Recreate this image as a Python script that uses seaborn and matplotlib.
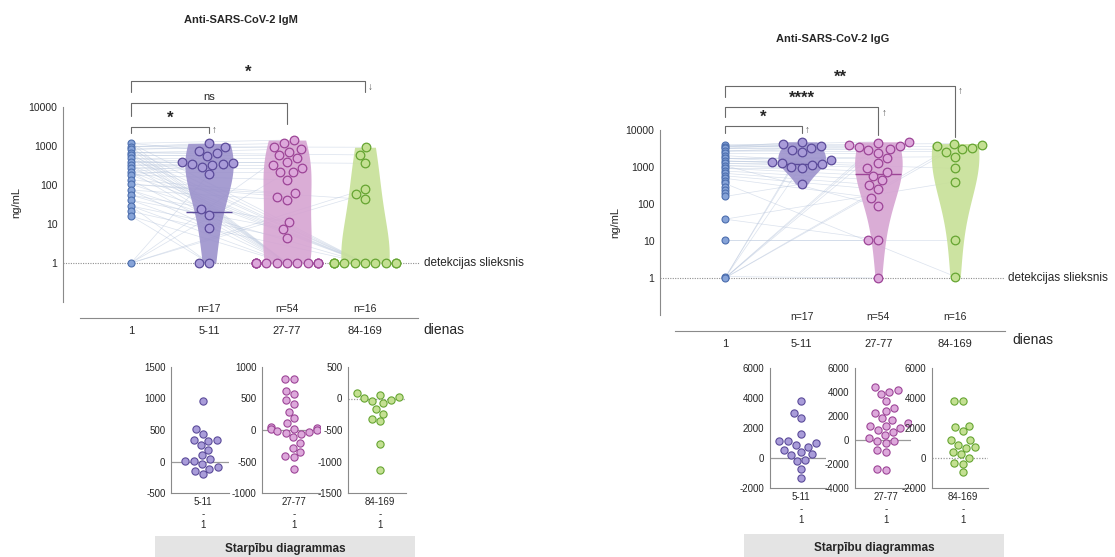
import warnings
import numpy as np
import pandas as pd
import matplotlib
matplotlib.use("Agg")
import matplotlib.pyplot as plt
import matplotlib.transforms as mtransforms
from matplotlib.patches import Rectangle
from matplotlib.ticker import FixedLocator, NullFormatter, AutoMinorLocator
import seaborn as sns

warnings.filterwarnings("ignore")

# ---- categories / labels ----
groups = ["1", "5-11", "27-77", "84-169"]
n_labels = ["n=17", "n=54", "n=16"]
diff_labels = ["5-11\n-\n1", "27-77\n-\n1", "84-169\n-\n1"]

# ---- IgM (ng/mL), later values and their day-1 partner ----
igm_day1 = [1170, 960, 825, 675, 585, 480, 395, 325, 270, 220, 180, 135, 105, 74, 55, 41, 29, 21, 16, 1]
igm_5_11 = [1170, 930, 760, 650, 550, 380, 360, 350, 340, 330, 295, 190, 24, 17, 7.8, 1, 1]
igm_5_11_d1 = [960, 825, 1170, 675, 585, 480, 395, 325, 270, 220, 180, 1, 105, 74, 41, 29, 16]
igm_27_77 = [1420, 1170, 960, 825, 710, 585, 480, 395, 325, 270, 220, 210, 135, 61, 50, 41, 11.5, 7.3, 4.3,
             1, 1, 1, 1, 1, 1, 1, 1, 1, 1, 1, 1]
igm_27_77_d1 = [1170, 960, 825, 675, 1, 585, 480, 395, 325, 270, 220, 1, 180, 135, 105, 74, 55, 41, 29,
                1170, 960, 825, 675, 585, 480, 325, 220, 135, 74, 29, 16]
igm_84_169 = [930, 590, 360, 78, 59, 43, 1, 1, 1, 1, 1, 1, 1, 1, 1, 1]
igm_84_169_d1 = [960, 675, 395, 1, 1, 105, 1170, 825, 585, 480, 325, 270, 220, 180, 55, 21]
igm_medians = [20, None, None]

# ---- IgG (ng/mL) ----
igg_day1 = [3900, 3500, 3180, 2700, 2340, 2030, 1710, 1450, 1260, 1090, 920, 780, 675, 580, 495, 420,
            360, 295, 240, 195, 160, 39, 11, 1.1, 1]
igg_5_11 = [4800, 4100, 3600, 3200, 2900, 2500, 1550, 1400, 1300, 1200, 1100, 1020, 920, 345]
igg_5_11_d1 = [3500, 3180, 3900, 2700, 1, 1, 2030, 1710, 1450, 1260, 1, 1090, 920, 160]
igg_27_77 = [4800, 4400, 4000, 3700, 3400, 3100, 2800, 2340, 1710, 1260, 960, 750, 580, 445, 325, 250,
             142, 90, 11, 11, 1]
igg_27_77_d1 = [3900, 1, 3500, 1, 3180, 2700, 1, 2340, 1710, 1450, 1260, 1090, 920, 780, 675, 580,
                495, 1090, 39, 11, 1.1]
igg_84_169 = [4300, 3900, 3600, 3300, 3000, 2600, 1900, 920, 400, 11, 1.1]
igg_84_169_d1 = [3900, 1, 3500, 1, 3180, 2700, 1710, 1450, 39, 11, 360]
igg_medians = [1200, 650, None]

# ---- difference plots ----
igm_diff_5_11 = [960, 516, 431, 347, 336, 325, 257, 188, 98, 35, 8, 8, -87, -34, -114, -151, -204]
igm_diff_27_77 = [808, 808, 612, 574, 479, 410, 293, 186, 106, 55, 35, 20, 10, 0, -10, -25, -40, -60,
                  -117, -202, -282, -346, -415, -436, -622]
igm_diff_84_169 = [80, 55, 30, 5, -20, -45, -70, -161, -241, -320, -362, -717, -1140]
igg_diff_5_11 = [3830, 3030, 2690, 1600, 1130, 1130, 970, 860, 750, 525, 413, 235, 190, -145, -212, -704, -1307]
igg_diff_27_77 = [4380, 4130, 3990, 3820, 3260, 2700, 2450, 2230, 1810, 1670, 1390, 1200, 1200, 1030, 830,
                  640, 410, 190, -90, -90, -280, -840, -1040, -2380, -2520]
igg_diff_84_169 = [3830, 3830, 2160, 2045, 1800, 1200, 1200, 860, 750, 680, 370, 235, 10, -300, -370, -930]

# ---- colours ----
face = {"1": "#86a3d8", "5-11": "#a99cd9", "27-77": "#dda8db", "84-169": "#c4e092"}
edge = {"1": "#4c6eae", "5-11": "#5b4b9a", "27-77": "#9d4597", "84-169": "#66a532"}
violin_col = {"5-11": "#9c92cc", "27-77": "#d6a4d2", "84-169": "#c7e097"}
line_col = "#b7c5dc"
axis_col = "#8a8a8a"

sns.set_style("white")
plt.rcParams["font.family"] = ["Liberation Sans", "DejaVu Sans"]
plt.rcParams["axes.unicode_minus"] = False

W, H = 1115, 557
fig = plt.figure(figsize=(W / 100, H / 100), dpi=100)


def rect(x0, y_top, x1, y_bot):
    return [x0 / W, (H - y_bot) / H, (x1 - x0) / W, (y_bot - y_top) / H]


def main_panel(r, day1, later, partners, medians, xlim, ybot, xline, n_y):
    ax = fig.add_axes(r)
    ax.set_yscale("log")
    long = pd.DataFrame({"group": np.repeat(groups[1:], [len(v) for v in later]),
                         "value": np.concatenate(later)})
    sns.violinplot(data=long, x="group", y="value", hue="group", order=groups, palette=violin_col,
                   inner=None, cut=0, density_norm="width", width=0.62, bw_adjust=1.6,
                   linewidth=0, saturation=1, legend=False, log_scale=True, ax=ax, zorder=2)
    for coll in ax.collections:
        coll.set_alpha(0.9)
    # connecting lines
    for k, (vals, pars) in enumerate(zip(later, partners), start=1):
        for v, p in zip(vals, pars):
            ax.plot([0, k], [p, v], color=line_col, lw=0.5, alpha=0.5, zorder=1)
    d1 = pd.DataFrame({"group": "1", "value": day1})
    sns.stripplot(data=d1, x="group", y="value", order=groups, jitter=False, color=face["1"],
                  edgecolor=edge["1"], linewidth=0.8, size=5, log_scale=True, ax=ax, zorder=4)
    for g, vals in zip(groups[1:], later):
        sub = pd.DataFrame({"group": g, "value": vals})
        sns.swarmplot(data=sub, x="group", y="value", order=groups, color=face[g], edgecolor=edge[g],
                      linewidth=0.9, size=6.2, log_scale=True, ax=ax, zorder=4)
    for k, (g, m) in enumerate(zip(groups[1:], medians), start=1):
        if m is not None:
            ax.hlines(m, k - 0.3, k + 0.3, color=edge[g], lw=1.0, zorder=3)
    ax.axhline(1, color="#8f8f8f", lw=0.8, ls=(0, (1, 1.2)), zorder=0)
    ax.set_xlim(*xlim)
    ax.set_ylim(ybot, 10000)
    ax.set_yticks([1, 10, 100, 1000, 10000])
    ax.set_yticklabels(["1", "10", "100", "1000", "10000"])
    minors = [k * 10.0 ** e for e in range(-1, 4) for k in range(2, 10)]
    ax.yaxis.set_minor_locator(FixedLocator(minors))
    ax.yaxis.set_minor_formatter(NullFormatter())
    ax.tick_params(axis="y", which="major", length=3, width=0.7, color=axis_col, labelsize=7.5, pad=1)
    ax.tick_params(axis="y", which="minor", length=1.8, width=0.6, color=axis_col)
    ax.tick_params(axis="x", length=0, labelsize=8, pad=6)
    ax.set_xlabel("")
    ax.set_ylabel("")
    for s in ["top", "right"]:
        ax.spines[s].set_visible(False)
    ax.spines["left"].set_bounds(0.1, 10000)
    ax.spines["bottom"].set_bounds(*xline)
    for s in ["left", "bottom"]:
        ax.spines[s].set_color(axis_col)
        ax.spines[s].set_linewidth(0.8)
    tr = mtransforms.blended_transform_factory(ax.transData, ax.transAxes)
    for k, lab in enumerate(n_labels, start=1):
        ax.text(k, n_y, lab, transform=tr, ha="center", va="center", fontsize=7.5)
    trt = mtransforms.blended_transform_factory(ax.transAxes, ax.transData)
    ax.text(1.01, 1, "detekcijas slieksnis", transform=trt, ha="left", va="center", fontsize=8.5)
    return ax


def bracket(ax, x2, top, left_lo, right_lo, label, fs, bold):
    ax.plot([0, 0, x2, x2], [left_lo, top, top, right_lo], color="#6a6a6a", lw=0.8, clip_on=False, zorder=5)
    ax.annotate(label, (x2 / 2, top), xytext=(0, 1), textcoords="offset points", ha="center", va="bottom",
                fontsize=fs, fontweight="bold" if bold else "normal", annotation_clip=False)


def arrow(ax, x, y, ch):
    ax.text(x, y, ch, ha="center", va="center", fontsize=7, color="#555555", clip_on=False)


# ---- left: IgM ----
axm = main_panel(rect(63, 107, 420, 318), igm_day1, [igm_5_11, igm_27_77, igm_84_169],
                 [igm_5_11_d1, igm_27_77_d1, igm_84_169_d1], igm_medians,
                 (-0.872, 3.705), 10 ** -1.41, (-0.654, 3.68), 0.045)
bracket(axm, 1, 10 ** 3.49, 10 ** 3.33, 10 ** 3.33, "*", 12, True)
bracket(axm, 2, 10 ** 4.10, 10 ** 3.77, 10 ** 3.56, "ns", 8, False)
bracket(axm, 3, 10 ** 4.67, 10 ** 4.38, 10 ** 4.38, "*", 12, True)
arrow(axm, 1.07, 10 ** 3.40, "↑")
arrow(axm, 3.06, 10 ** 4.50, "↓")

# ---- right: IgG ----
axg = main_panel(rect(660, 130, 1005, 331), igg_day1, [igg_5_11, igg_27_77, igg_84_169],
                 [igg_5_11_d1, igg_27_77_d1, igg_84_169_d1], igg_medians,
                 (-0.846, 3.65), 10 ** -1.43, (-0.65, 3.65), 0.07)
bracket(axg, 1, 10 ** 4.11, 10 ** 3.92, 10 ** 3.92, "*", 12, True)
bracket(axg, 2, 10 ** 4.62, 10 ** 4.35, 10 ** 3.86, "****", 12, True)
bracket(axg, 3, 10 ** 5.19, 10 ** 4.90, 10 ** 3.81, "**", 12, True)
arrow(axg, 1.07, 10 ** 4.00, "↑")
arrow(axg, 2.07, 10 ** 4.46, "↑")
arrow(axg, 3.07, 10 ** 5.05, "↑")

# titles / labels
fig.text(241 / W, 1 - 20 / H, "Anti-SARS-CoV-2 IgM", ha="center", va="center", fontsize=8, fontweight="bold")
fig.text(833 / W, 1 - 39 / H, "Anti-SARS-CoV-2 IgG", ha="center", va="center", fontsize=8, fontweight="bold")
fig.text(16 / W, 1 - 203 / H, "ng/mL", rotation=90, ha="center", va="center", fontsize=8)
fig.text(615 / W, 1 - 223 / H, "ng/mL", rotation=90, ha="center", va="center", fontsize=8)
fig.text(423 / W, 1 - 330 / H, "dienas", ha="left", va="center", fontsize=10)
fig.text(1012 / W, 1 - 340 / H, "dienas", ha="left", va="center", fontsize=10)


# ---- difference plots ----
def diff_panel(r, values, label, g, ylim, step, minor_n, dotted):
    ax = fig.add_axes(r)
    df = pd.DataFrame({"g": label, "v": values})
    sns.swarmplot(data=df, x="g", y="v", color=face[g], edgecolor=edge[g], linewidth=0.8, size=5.2,
                  ax=ax, zorder=3)
    ax.axhline(0, color="#9a9a9a", lw=0.9, ls=(0, (1, 1.2)) if dotted else "-", zorder=1)
    ax.set_xlim(-0.55, 0.45)
    ax.set_ylim(*ylim)
    ax.set_yticks(np.arange(ylim[0], ylim[1] + 1, step))
    ax.yaxis.set_minor_locator(AutoMinorLocator(minor_n))
    ax.tick_params(axis="y", which="major", length=3, width=0.7, color=axis_col, labelsize=7, pad=1)
    ax.tick_params(axis="y", which="minor", length=1.6, width=0.5, color=axis_col)
    ax.tick_params(axis="x", length=0, labelsize=7, pad=3)
    ax.set_xlabel("")
    ax.set_ylabel("")
    for s in ["top", "right"]:
        ax.spines[s].set_visible(False)
    for s in ["left", "bottom"]:
        ax.spines[s].set_color(axis_col)
        ax.spines[s].set_linewidth(0.8)
    return ax


for x0, vals, lab, g, yl, st, dot in [
    (171, igm_diff_5_11, diff_labels[0], "5-11", (-500, 1500), 500, False),
    (262, igm_diff_27_77, diff_labels[1], "27-77", (-1000, 1000), 500, False),
    (348, igm_diff_84_169, diff_labels[2], "84-169", (-1500, 500), 500, True),
]:
    diff_panel(rect(x0, 367, x0 + 58, 493), vals, lab, g, yl, st, 5, dot)

for x0, vals, lab, g, yl, st, dot in [
    (770, igg_diff_5_11, diff_labels[0], "5-11", (-2000, 6000), 2000, False),
    (855, igg_diff_27_77, diff_labels[1], "27-77", (-4000, 6000), 2000, False),
    (932, igg_diff_84_169, diff_labels[2], "84-169", (-2000, 6000), 2000, True),
]:
    diff_panel(rect(x0, 368, x0 + 56, 488), vals, lab, g, yl, st, 4, dot)

# grey caption boxes
for x0, x1, y0 in [(155, 415, 536), (744, 1004, 534)]:
    fig.add_artist(Rectangle((x0 / W, 0), (x1 - x0) / W, (H - y0) / H, transform=fig.transFigure,
                             facecolor="#e4e4e4", edgecolor="none", zorder=0))
    fig.text((x0 + x1) / 2 / W, (H - y0) / H / 2 - 0.004, "Starpību diagrammas", ha="center", va="center",
             fontsize=8.5, fontweight="bold")

fig.savefig("out.png", dpi=100, facecolor="white")
